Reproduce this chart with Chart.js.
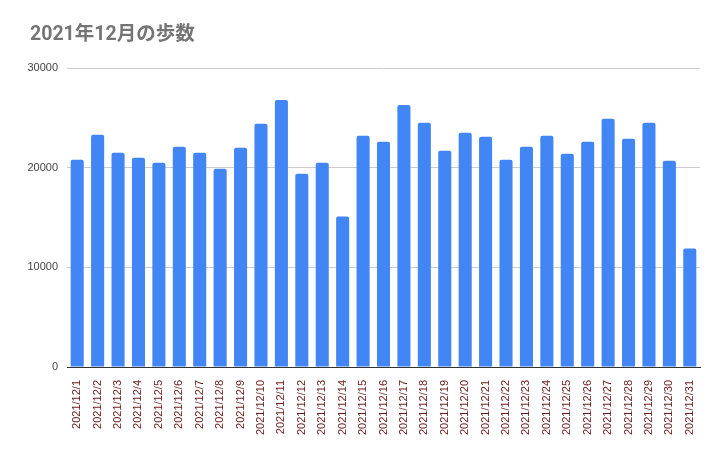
<!DOCTYPE html>
<html><head><meta charset="utf-8">
<script src="https://cdn.jsdelivr.net/npm/chart.js@4/dist/chart.umd.min.js"></script>
<style>html,body{margin:0;padding:0;background:#fff}#wrap{width:725px;height:449px}</style>
</head><body><div id="wrap"><canvas id="c" width="725" height="449"></canvas></div>
<script>
const chartTitle = "2021年12月の歩数";
const categories = ["2021/12/1","2021/12/2","2021/12/3","2021/12/4","2021/12/5","2021/12/6","2021/12/7","2021/12/8","2021/12/9","2021/12/10","2021/12/11","2021/12/12","2021/12/13","2021/12/14","2021/12/15","2021/12/16","2021/12/17","2021/12/18","2021/12/19","2021/12/20","2021/12/21","2021/12/22","2021/12/23","2021/12/24","2021/12/25","2021/12/26","2021/12/27","2021/12/28","2021/12/29","2021/12/30","2021/12/31"];
const steps = [20800,23300,21500,21000,20500,22100,21500,19900,22000,24400,26800,19400,20500,15100,23200,22600,26300,24500,21700,23500,23100,20800,22100,23200,21400,22600,24900,22900,24500,20700,11900];
const yTicks = [0,10000,20000,30000];

const titlePlugin = {
  id: 'customTitle',
  afterDraw(chart) {
    const ctx = chart.ctx;
    ctx.save();
    ctx.font = "bold 19.5px Roboto, 'Noto Sans CJK JP', sans-serif";
    ctx.fillStyle = '#757575';
    ctx.textBaseline = 'middle';
    ctx.textAlign = 'left';
    ctx.fillText(chartTitle, 30, 35);
    ctx.restore();
  }
};

new Chart(document.getElementById('c'), {
  type: 'bar',
  data: {
    labels: categories,
    datasets: [{
      data: steps,
      backgroundColor: '#4285F4',
      borderRadius: 2,
      borderSkipped: 'bottom',
      barPercentage: 0.64,
      categoryPercentage: 1.0
    }]
  },
  options: {
    responsive: false,
    animation: false,
    devicePixelRatio: 1,
    layout: { padding: { top: 68, right: 25, left: 0, bottom: 0 } },
    plugins: { legend: { display: false }, title: { display: false }, tooltip: { enabled: false } },
    scales: {
      x: {
        grid: { display: false },
        border: { display: true, color: '#333333', width: 1 },
        ticks: {
          minRotation: 90, maxRotation: 90, autoSkip: false,
          color: '#6b1a1a',
          font: { family: "'Liberation Sans', Arial, sans-serif", size: 11 },
          padding: 5
        },
        afterFit(scale) { scale.height = 82; }
      },
      y: {
        min: 0, max: 30000,
        afterBuildTicks(scale) { scale.ticks = yTicks.map(v => ({ value: v })); },
        grid: { color: '#cccccc', drawTicks: false },
        border: { display: false },
        ticks: {
          color: '#444444',
          font: { family: "'Liberation Sans', Arial, sans-serif", size: 11 },
          padding: 9,
          callback: (v) => String(v)
        },
        afterFit(scale) { scale.width = 67; }
      }
    }
  },
  plugins: [titlePlugin]
});
</script></body></html>
